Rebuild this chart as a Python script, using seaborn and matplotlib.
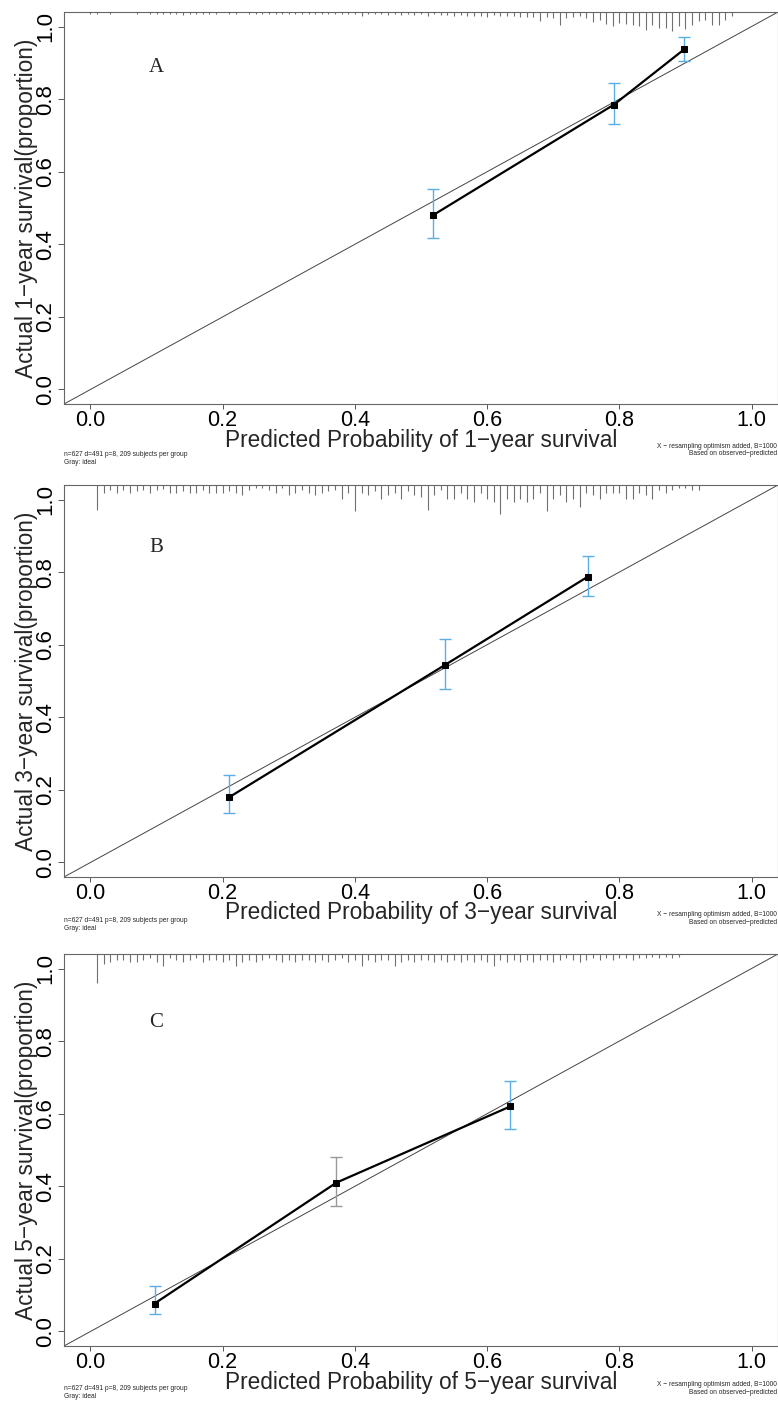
import matplotlib
matplotlib.use("Agg")
import matplotlib.pyplot as plt
import seaborn as sns
import numpy as np

# ---------------- data ----------------
panel_letters = ["A", "B", "C"]
years = ["1", "3", "5"]

# calibration points (predicted, observed, lower CI, upper CI)
pred_a = [0.518, 0.792, 0.898]
obs_a = [0.480, 0.785, 0.937]
lo_a = [0.416, 0.732, 0.904]
hi_a = [0.553, 0.844, 0.970]

pred_b = [0.210, 0.537, 0.752]
obs_b = [0.180, 0.545, 0.787]
lo_b = [0.135, 0.478, 0.735]
hi_b = [0.240, 0.615, 0.845]

pred_c = [0.097, 0.372, 0.635]
obs_c = [0.077, 0.410, 0.620]
lo_c = [0.048, 0.345, 0.558]
hi_c = [0.125, 0.480, 0.690]

# risk distribution (rug at top): bin positions and relative frequency
rug_a_x = [0.00, 0.01, 0.03, 0.07, 0.09, 0.10, 0.11, 0.12, 0.13, 0.14, 0.15, 0.16, 0.17,
           0.18, 0.19, 0.21, 0.22, 0.24, 0.25, 0.26, 0.27, 0.28, 0.29, 0.30, 0.31, 0.32,
           0.33, 0.34, 0.35, 0.36, 0.37, 0.38, 0.39, 0.40, 0.41, 0.42, 0.43, 0.44, 0.45,
           0.46, 0.47, 0.48, 0.49, 0.50, 0.51, 0.52, 0.53, 0.54, 0.55, 0.56, 0.57, 0.58,
           0.59, 0.60, 0.61, 0.62, 0.63, 0.64, 0.65, 0.66, 0.67, 0.68, 0.69, 0.70, 0.71,
           0.72, 0.73, 0.74, 0.75, 0.76, 0.77, 0.78, 0.79, 0.80, 0.81, 0.82, 0.83, 0.84,
           0.85, 0.86, 0.87, 0.88, 0.89, 0.90, 0.91, 0.92, 0.93, 0.94, 0.95, 0.96, 0.97]
rug_a_h = [2, 2, 2, 2, 2, 2, 2, 2, 2, 3, 2, 2, 2,
           2, 2, 2, 2, 2, 2, 2, 2, 2, 2, 2, 2, 2,
           2, 2, 2, 2, 2, 2, 2, 2, 4, 2, 2, 2, 3,
           2, 3, 2, 3, 2, 4, 2, 3, 3, 4, 3, 4, 4,
           4, 5, 3, 4, 4, 4, 5, 5, 5, 9, 5, 6, 13,
           6, 5, 4, 6, 10, 8, 12, 14, 11, 12, 13, 14, 18,
           13, 16, 16, 19, 14, 17, 13, 9, 8, 13, 13, 8, 4]

rug_b_x = [round(0.01 * i, 2) for i in range(1, 93)]
rug_b_h = [25, 8, 5, 8, 5, 8, 6, 5, 8, 5, 4, 8, 8, 6, 8, 8, 5, 8, 8, 8,
           6, 8, 10, 5, 3, 3, 5, 8, 3, 10, 8, 5, 8, 10, 8, 6, 5, 14, 8, 26,
           8, 10, 6, 14, 10, 8, 14, 6, 10, 12, 25, 10, 5, 14, 14, 8, 14, 17, 8, 14,
           17, 29, 14, 17, 14, 17, 14, 8, 26, 14, 10, 17, 14, 22, 8, 10, 14, 8, 8, 8,
           14, 14, 8, 10, 14, 5, 8, 5, 3, 3, 5, 5]

rug_c_x = [round(0.01 * i, 2) for i in range(1, 90)]
rug_c_h = [29, 10, 8, 6, 6, 8, 8, 6, 4, 8, 12, 4, 6, 8, 6, 4, 8, 6, 6, 8,
           6, 12, 8, 6, 8, 6, 4, 6, 8, 6, 8, 6, 6, 8, 6, 8, 6, 4, 8, 6,
           12, 6, 8, 6, 6, 12, 8, 6, 8, 6, 6, 8, 6, 8, 6, 8, 6, 8, 6, 8,
           12, 6, 8, 6, 8, 6, 8, 6, 6, 8, 6, 4, 6, 8, 6, 4, 6, 4, 6, 4,
           4, 6, 4, 4, 3, 4, 3, 4, 3]

tick_vals = [0.0, 0.2, 0.4, 0.6, 0.8, 1.0]
tick_labels = ["0.0", "0.2", "0.4", "0.6", "0.8", "1.0"]

footer_left = ["n=627 d=491 p=8, 209 subjects per group", "Gray: ideal"]
footer_right = ["X \u2212 resampling optimism added, B=1000", "Based on observed\u2212predicted"]

# ---------------- style ----------------
sns.set_theme(style="white")
plt.rcParams["font.family"] = ["Liberation Sans", "DejaVu Sans"]

W, H = 778, 1401
fig = plt.figure(figsize=(W / 100, H / 100), dpi=100)

# top px, bottom px, letter y, error-bar colours, footer-left y, footer-right y
panels = [
    (pred_a, obs_a, lo_a, hi_a, rug_a_x, rug_a_h, 12, 404, 0.888, ["#5BAEE5"] * 3, 455, 446),
    (pred_b, obs_b, lo_b, hi_b, rug_b_x, rug_b_h, 485, 877, 0.867, ["#5BAEE5"] * 3, 920, 915),
    (pred_c, obs_c, lo_c, hi_c, rug_c_x, rug_c_h, 954, 1346, 0.852,
     ["#5BAEE5", "#999999", "#5BAEE5"], 1388, 1385),
]

LIM = (-0.04, 1.04)
for i, (px, py, lo, hi, rx, rh, top, bot, letter_y, ecols, fl, fr) in enumerate(panels):
    ax = fig.add_axes([64 / W, 1 - bot / H, (W - 64) / W, (bot - top) / H])
    ax.set_xlim(*LIM)
    ax.set_ylim(*LIM)
    axh = bot - top
    yunit_per_px = (LIM[1] - LIM[0]) / axh

    # ideal line
    ax.plot(LIM, LIM, color="#444444", lw=0.7, zorder=1)

    # rug / risk distribution at top
    rx_arr = np.array(rx)
    rh_arr = np.array(rh) * yunit_per_px
    ax.vlines(rx_arr, LIM[1] - rh_arr, LIM[1], color="#707070", lw=0.8, zorder=2)

    # error bars
    px_a, py_a = np.array(px), np.array(py)
    for j in range(len(px)):
        ax.errorbar([px_a[j]], [py_a[j]],
                    yerr=[[py_a[j] - lo[j]], [hi[j] - py_a[j]]],
                    fmt="none", ecolor=ecols[j], elinewidth=1.0, capsize=4.5, capthick=1.0, zorder=3)

    # calibration line
    sns.lineplot(x=px, y=py, ax=ax, color="black", lw=1.6, marker="s", markersize=5,
                 markeredgecolor="black", markerfacecolor="black", sort=False, zorder=4)

    # letter
    ax.text(0.10, letter_y, panel_letters[i], fontsize=15, family=["Liberation Serif"],
            ha="center", va="center")

    # ticks
    ax.set_xticks(tick_vals)
    ax.set_xticklabels(tick_labels)
    ax.set_yticks(tick_vals)
    ax.set_yticklabels(tick_labels, rotation=90, va="center")
    ax.tick_params(axis="x", direction="out", length=3.5, width=0.7, colors="#555555",
                   labelcolor="black", labelsize=15.5, pad=0.5, bottom=True)
    ax.tick_params(axis="y", direction="out", length=4.5, width=0.7, colors="#555555",
                   labelcolor="black", labelsize=16, pad=1, left=True)

    for s in ax.spines.values():
        s.set_color("#666666")
        s.set_linewidth(0.8)

    ax.set_xlabel(f"Predicted Probability of {years[i]}\u2212year survival", fontsize=16.3)
    ax.set_ylabel(f"Actual {years[i]}\u2212year survival(proportion)", fontsize=16.3)
    ax.xaxis.set_label_coords(0.5, -(428.5 - 404) / axh)
    ax.yaxis.set_label_coords(-(64 - 38) / (W - 64), 0.5)

    # footers
    fig.text(64 / W, 1 - fl / H, footer_left[0], fontsize=4.8, ha="left", va="center")
    fig.text(64 / W, 1 - (fl + 8) / H, footer_left[1], fontsize=4.8, ha="left", va="center")
    fig.text(777 / W, 1 - fr / H, footer_right[0], fontsize=4.8, ha="right", va="center")
    fig.text(777 / W, 1 - (fr + 8) / H, footer_right[1], fontsize=4.8, ha="right", va="center")

fig.savefig("out.png", dpi=100, facecolor="white")
